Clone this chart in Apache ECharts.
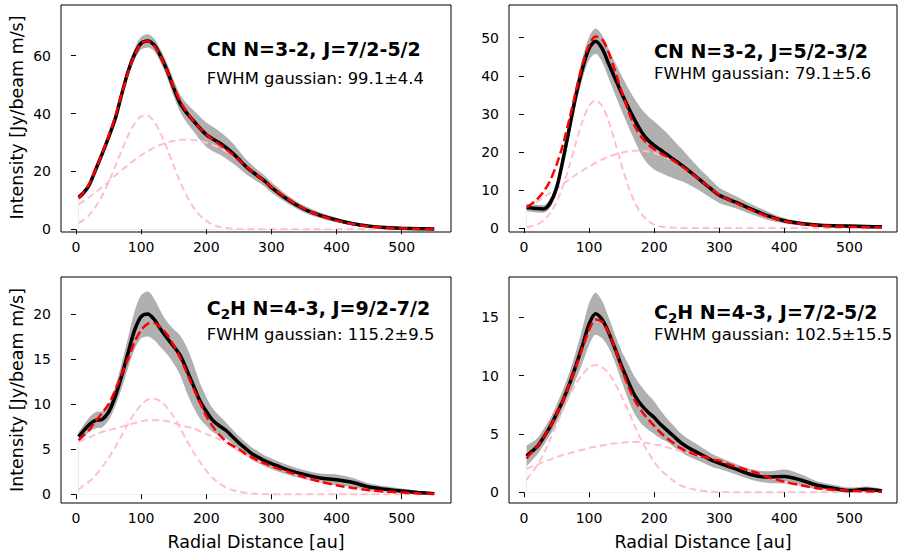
<!DOCTYPE html>
<html><head><meta charset="utf-8">
<script src="https://cdn.jsdelivr.net/npm/echarts@6/dist/echarts.min.js"></script>
<style>html,body{margin:0;padding:0;background:#fff}#c{width:898px;height:556px}</style>
</head><body><div id="c"></div>
<script>
// ---- data (radial distance in au) ----
const radius = [4,10,20,30,40,50,60,70,80,90,100,110,120,130,140,150,160,170,180,190,200,210,220,230,240,250,260,270,280,290,300,325,350,375,400,425,450,475,500,525,550];

// CN N=3-2, J=7/2-5/2
const cn72Obs   = [11.0,12.2,15.2,20.5,26.0,31.8,38.0,46.5,54.5,60.5,64.3,65.1,63.7,59.8,54.8,48.8,43.5,40.2,37.6,35.0,32.7,31.2,29.9,28.3,26.4,24.2,21.9,20.0,18.3,16.6,14.5,10.3,7.0,4.8,3.2,1.9,1.1,0.6,0.35,0.2,0.1];
const cn72Err   = [1.0,1.0,1.0,1.0,1.0,1.2,1.3,1.5,1.8,2.0,2.2,2.3,2.2,2.2,2.5,2.8,3.0,3.3,3.6,4.0,4.2,4.2,4.0,3.8,3.5,3.0,2.6,2.3,2.0,1.9,1.8,1.4,1.2,1.0,0.8,0.6,0.5,0.4,0.3,0.3,0.3];
const cn72Fit   = [10.8,12.3,15.6,20.6,26.1,32.2,38.8,46.6,54.2,60.3,64.2,65.0,63.4,59.6,54.6,49.2,44.3,40.6,37.6,35.0,32.8,31.0,29.4,27.7,25.9,24.0,22.0,20.1,18.3,16.5,14.7,10.5,7.1,4.7,3.0,1.8,1.0,0.55,0.3,0.15,0.07];
const cn72Ring  = [2.2,3.0,4.9,7.7,11.5,16.2,21.6,27.2,32.4,36.5,39.0,39.2,37.2,33.2,27.8,22.0,16.4,11.6,7.7,4.8,2.9,1.6,0.85,0.42,0.2,0.09,0.04,0.02,0.01,0,0,0,0,0,0,0,0,0,0,0,0];
const cn72Broad = [8.7,9.5,11.0,12.7,14.6,16.5,18.5,20.4,22.2,24.0,25.6,27.0,28.2,29.2,30.0,30.6,30.9,31.0,30.9,30.5,29.9,29.1,28.1,26.9,25.5,23.9,22.0,20.1,18.3,16.5,14.7,10.5,7.1,4.7,3.0,1.8,1.0,0.55,0.3,0.15,0.07];

// CN N=3-2, J=5/2-3/2
const cn52Obs   = [5.4,5.3,5.1,5.0,6.5,10.5,18.0,26.5,35.0,42.0,47.2,49.1,47.2,43.2,39.3,35.4,31.8,28.4,25.4,23.2,21.7,20.5,19.3,18.0,16.8,15.5,14.1,12.7,11.3,9.9,8.6,6.8,4.9,3.2,1.9,1.2,0.8,0.6,0.5,0.4,0.3];
const cn52Err   = [1.0,1.0,1.0,1.0,1.2,1.5,2.0,2.3,2.5,2.8,3.0,3.3,3.5,3.8,4.2,4.6,5.0,5.5,6.0,6.3,6.3,6.0,5.6,5.0,4.4,3.8,3.3,2.9,2.6,2.3,2.0,1.6,1.3,1.1,0.7,0.5,0.4,0.3,0.3,0.3,0.3];
const cn52Fit   = [5.5,6.1,7.5,9.5,12.4,16.6,22.0,28.8,36.2,43.1,48.0,50.3,49.6,46.2,41.2,35.9,30.9,26.8,24.0,22.1,20.7,19.6,18.7,17.7,16.5,15.3,14.0,12.7,11.4,10.0,8.7,6.6,4.7,3.0,1.8,1.1,0.7,0.45,0.3,0.2,0.15];
const cn52Ring  = [0.3,0.4,0.9,2.0,3.8,6.8,11.1,16.5,22.5,28.1,32.1,33.5,32.1,28.1,22.5,16.5,11.1,6.8,3.8,2.0,0.9,0.4,0.16,0.06,0.02,0,0,0,0,0,0,0,0,0,0,0,0,0,0,0,0];
const cn52Broad = [5.2,5.8,6.9,8.0,9.2,10.4,11.6,12.8,14.0,15.1,16.1,17.1,18.0,18.7,19.3,19.8,20.1,20.3,20.3,20.1,19.7,19.2,18.5,17.6,16.5,15.3,14.0,12.7,11.4,10.0,8.7,6.6,4.7,3.0,1.8,1.1,0.7,0.45,0.3,0.2,0.15];

// C2H N=4-3, J=9/2-7/2
const c2h92Obs   = [6.4,6.9,7.7,8.2,8.3,9.1,10.8,13.1,15.7,18.2,19.7,20.0,19.4,18.3,17.3,16.4,15.4,13.8,12.1,10.4,9.2,8.2,7.6,7.1,6.4,5.7,5.1,4.5,4.1,3.7,3.4,2.7,2.2,1.8,1.6,1.3,0.8,0.55,0.35,0.2,0.07];
const c2h92Err   = [0.5,0.6,0.8,0.9,0.9,0.9,1.1,1.4,1.7,2.1,2.4,2.5,2.3,2.0,1.8,1.9,2.2,2.5,2.4,2.0,1.6,1.3,1.1,0.9,0.8,0.75,0.7,0.7,0.65,0.6,0.6,0.55,0.5,0.5,0.6,0.5,0.4,0.35,0.3,0.2,0.15];
const c2h92Fit   = [6.0,6.4,7.1,8.1,9.0,10.0,11.5,13.3,15.0,16.9,18.2,18.9,19.0,18.5,17.7,16.5,15.1,13.5,11.8,10.2,8.7,7.5,6.6,5.9,5.4,5.0,4.5,4.1,3.7,3.4,3.1,2.5,1.9,1.4,1.0,0.7,0.45,0.3,0.2,0.1,0.06];
const c2h92Ring  = [0.5,0.9,1.4,2.1,3.0,4.0,5.2,6.5,7.8,9.0,9.9,10.5,10.6,10.3,9.6,8.6,7.3,6.0,4.7,3.6,2.6,1.8,1.2,0.77,0.47,0.28,0.16,0.09,0.05,0.02,0.01,0,0,0,0,0,0,0,0,0,0];
const c2h92Broad = [5.8,6.0,6.3,6.6,6.9,7.1,7.3,7.5,7.7,7.9,8.1,8.2,8.2,8.2,8.1,7.9,7.7,7.5,7.3,7.0,6.7,6.4,6.1,5.7,5.3,4.8,4.4,4.0,3.65,3.35,3.1,2.5,1.9,1.4,1.0,0.7,0.45,0.3,0.2,0.1,0.06];

// C2H N=4-3, J=7/2-5/2
const c2h72Obs   = [3.1,3.4,3.9,4.7,5.6,6.7,7.9,9.3,10.9,12.6,14.4,15.3,14.8,13.7,12.3,10.8,9.5,8.3,7.5,6.9,6.4,5.8,5.3,4.8,4.3,3.9,3.6,3.3,3.0,2.7,2.5,2.0,1.5,1.3,1.35,1.05,0.6,0.35,0.15,0.25,0.1];
const c2h72Err   = [0.9,0.8,0.7,0.7,0.7,0.8,0.9,1.0,1.2,1.5,1.8,1.8,1.6,1.3,1.2,1.3,1.5,1.6,1.6,1.5,1.4,1.2,1.0,0.9,0.8,0.75,0.7,0.65,0.6,0.55,0.5,0.45,0.45,0.5,0.6,0.5,0.35,0.3,0.25,0.25,0.2];
const c2h72Fit   = [2.9,3.3,3.9,4.7,5.6,6.7,7.9,9.3,10.8,12.4,13.9,14.8,14.6,13.7,12.3,10.6,9.1,7.9,7.0,6.3,5.7,5.1,4.6,4.2,3.8,3.5,3.3,3.1,3.0,2.8,2.7,2.2,1.8,1.3,0.9,0.6,0.35,0.22,0.15,0.08,0.05];
const c2h72Ring  = [1.05,1.5,2.3,3.3,4.5,5.8,7.1,8.3,9.3,10.1,10.7,10.9,10.7,10.2,9.3,8.2,7.0,5.7,4.5,3.5,2.6,1.9,1.4,0.95,0.6,0.4,0.25,0.15,0.1,0.05,0.03,0,0,0,0,0,0,0,0,0,0];
const c2h72Broad = [2.0,2.15,2.35,2.6,2.8,3.0,3.2,3.35,3.5,3.65,3.8,3.9,4.0,4.1,4.2,4.25,4.3,4.3,4.3,4.2,4.1,4.0,3.85,3.7,3.55,3.4,3.25,3.1,2.95,2.8,2.65,2.2,1.8,1.3,0.9,0.6,0.35,0.22,0.15,0.08,0.05];

// ---- ticks and texts ----
const xTicks  = [0,100,200,300,400,500];
const yTicks1 = [0,20,40,60];
const yTicks2 = [0,10,20,30,40,50];
const yTicks3 = [0,5,10,15,20];
const yTicks4 = [0,5,10,15];
const lineTitles = [
  '{t|CN N=3-2, J=7/2-5/2}',
  '{t|CN N=3-2, J=5/2-3/2}',
  '{t|C}{s|2}{t|H N=4-3, J=9/2-7/2}',
  '{t|C}{s|2}{t|H N=4-3, J=7/2-5/2}'
];
const fwhmTexts = ['FWHM gaussian: 99.1±4.4','FWHM gaussian: 79.1±5.6','FWHM gaussian: 115.2±9.5','FWHM gaussian: 102.5±15.5'];
const yName = 'Intensity [Jy/beam m/s]';
const xName = 'Radial Distance [au]';

// ---- layout ----
const FONT = 'DejaVu Sans';
const panels = [
  {obs:cn72Obs, err:cn72Err, fit:cn72Fit, ring:cn72Ring, broad:cn72Broad, yTicks:yTicks1,
   grid:{left:61, top:5, width:390, height:227}, xr:[-23,575.7], yr:[-0.93,77.5], tx:206.7, ty:49, fy:78},
  {obs:cn52Obs, err:cn52Err, fit:cn52Fit, ring:cn52Ring, broad:cn52Broad, yTicks:yTicks2,
   grid:{left:509, top:5, width:388, height:227}, xr:[-23,573], yr:[-1.05,58.6], tx:654, ty:50.5, fy:73},
  {obs:c2h92Obs, err:c2h92Err, fit:c2h92Fit, ring:c2h92Ring, broad:c2h92Broad, yTicks:yTicks3,
   grid:{left:61, top:277, width:390, height:226}, xr:[-23,575.7], yr:[-0.97,24.1], tx:206.7, ty:308.3, fy:334},
  {obs:c2h72Obs, err:c2h72Err, fit:c2h72Fit, ring:c2h72Ring, broad:c2h72Broad, yTicks:yTicks4,
   grid:{left:509, top:277, width:388, height:226}, xr:[-23,573], yr:[-0.92,18.45], tx:654, ty:311.7, fy:334}
];

const grids=[], xAxes=[], yAxes=[], series=[], graphics=[];
const SM = 0.3;
panels.forEach((p,i)=>{
  grids.push(Object.assign({show:true, borderColor:'#000', borderWidth:1, backgroundColor:'transparent', z:5}, p.grid));
  xAxes.push({type:'value', gridIndex:i, min:p.xr[0], max:p.xr[1], position:'bottom', z:5,
    splitLine:{show:false}, axisLine:{show:false},
    axisTick:{show:true, length:5, lineStyle:{color:'#000', width:1}, customValues:xTicks},
    axisLabel:{customValues:xTicks, fontSize:14, color:'#000', fontFamily:FONT, margin:8}});
  yAxes.push({type:'value', gridIndex:i, min:p.yr[0], max:p.yr[1], z:5,
    splitLine:{show:false}, axisLine:{show:false},
    axisTick:{show:true, length:5, lineStyle:{color:'#000', width:1}, customValues:p.yTicks},
    axisLabel:{customValues:p.yTicks, fontSize:14, color:'#000', fontFamily:FONT, margin:10}});
  const base = {type:'line', xAxisIndex:i, yAxisIndex:i, symbol:'none', smooth:SM, silent:true, animation:false};
  // error band: grey area down to zero from the upper edge, then a white area from the lower edge
  series.push(Object.assign({}, base, {name:'hi'+i, z:1,
    data: radius.map((x,k)=>[x, p.obs[k]+p.err[k]]), lineStyle:{opacity:0},
    areaStyle:{color:'#b0b0b0', opacity:1, origin:0}}));
  series.push(Object.assign({}, base, {name:'lo'+i, z:1, zlevel:0,
    data: radius.map((x,k)=>[x, p.obs[k]-p.err[k]]), lineStyle:{opacity:0},
    areaStyle:{color:'#ffffff', opacity:1, origin:0}}));
  series.push(Object.assign({}, base, {name:'ring'+i, z:2,
    data: radius.map((x,k)=>[x, p.ring[k]]), lineStyle:{color:'#ffc0cb', width:2, type:[7,4]}}));
  series.push(Object.assign({}, base, {name:'broad'+i, z:2,
    data: radius.map((x,k)=>[x, p.broad[k]]), lineStyle:{color:'#ffc0cb', width:2, type:[7,4]}}));
  series.push(Object.assign({}, base, {name:'obs'+i, z:3,
    data: radius.map((x,k)=>[x, p.obs[k]]), lineStyle:{color:'#000', width:3.5}}));
  series.push(Object.assign({}, base, {name:'fit'+i, z:4,
    data: radius.map((x,k)=>[x, p.fit[k]]), lineStyle:{color:'#ff0000', width:2.5, type:[9,4]}}));

  graphics.push({type:'text', x:p.tx, y:p.ty, z:10, style:{text:lineTitles[i], align:'left', verticalAlign:'middle',
    rich:{t:{fontFamily:FONT, fontSize:19, fontWeight:'bold', fill:'#000', color:'#000'},
          s:{fontFamily:FONT, fontSize:13.5, fontWeight:'bold', fill:'#000', color:'#000', padding:[12,0,0,0]}}}});
  graphics.push({type:'text', x:p.tx, y:p.fy, z:10, style:{text:fwhmTexts[i], align:'left', verticalAlign:'middle',
    font:'16.4px "DejaVu Sans"', fill:'#000'}});
});
graphics.push({type:'text', x:16.7, y:117.5, rotation:Math.PI/2, style:{text:yName, align:'center', verticalAlign:'middle', font:'17.5px "DejaVu Sans"', fill:'#000'}});
graphics.push({type:'text', x:16.7, y:390, rotation:Math.PI/2, style:{text:yName, align:'center', verticalAlign:'middle', font:'17.5px "DejaVu Sans"', fill:'#000'}});
graphics.push({type:'text', x:256, y:541.7, style:{text:xName, align:'center', verticalAlign:'middle', font:'17.5px "DejaVu Sans"', fill:'#000'}});
graphics.push({type:'text', x:703, y:541.7, style:{text:xName, align:'center', verticalAlign:'middle', font:'17.5px "DejaVu Sans"', fill:'#000'}});

const chart = echarts.init(document.getElementById('c'), null, {renderer:'svg', width:898, height:556});
chart.setOption({animation:false, backgroundColor:'#fff', grid:grids, xAxis:xAxes, yAxis:yAxes, series:series, graphic:graphics});
</script></body></html>
